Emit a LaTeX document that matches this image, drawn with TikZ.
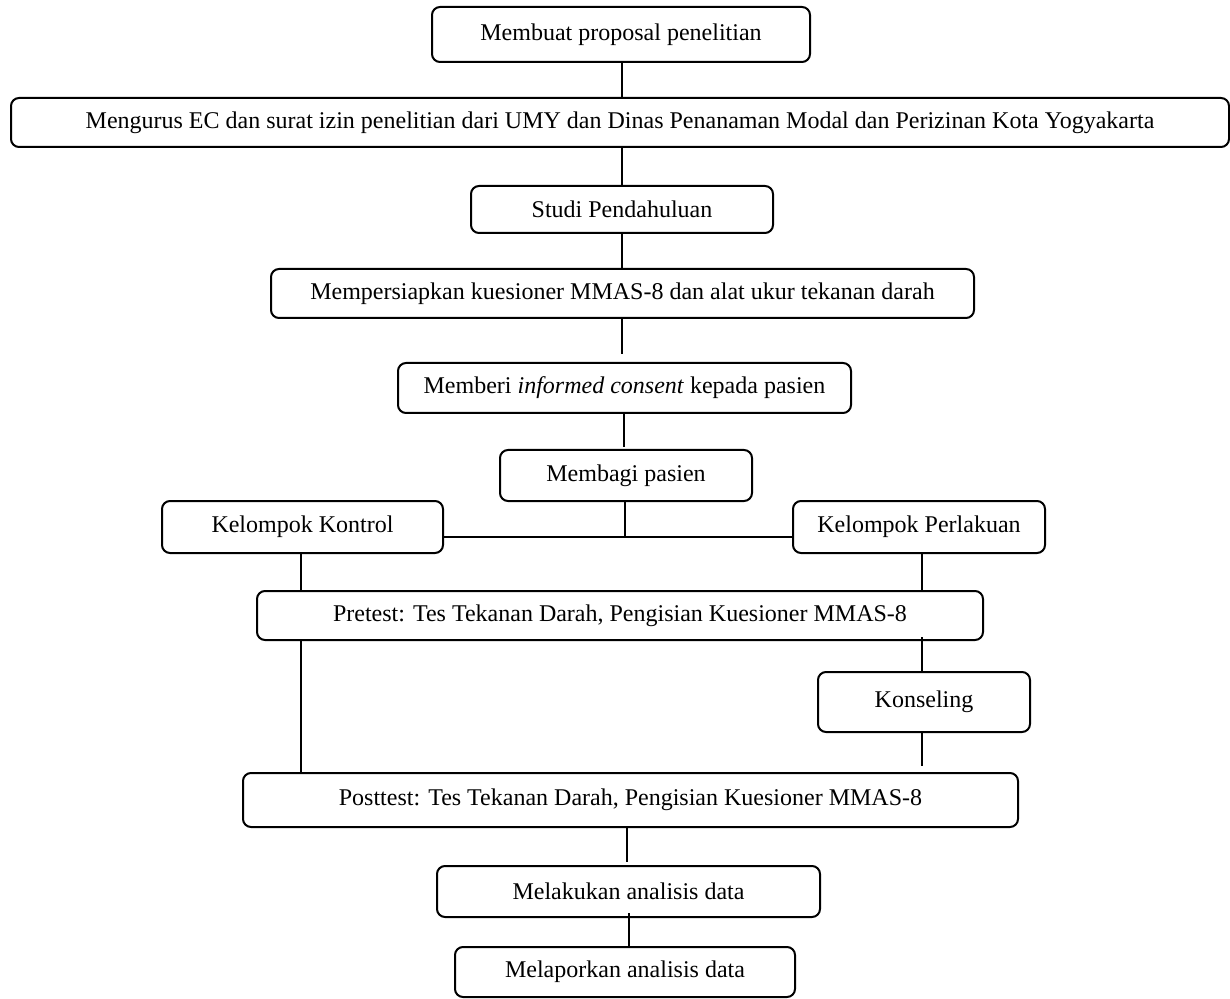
\documentclass[tikz,border=0pt]{standalone}
\usepackage{fontspec}
\setmainfont{Liberation Serif}
\begin{document}
\begin{tikzpicture}[x=0.5pt,y=-0.5pt,
  box/.style={draw, line width=1pt, rounded corners=4pt, inner sep=0pt, font=\fontsize{12pt}{14pt}\selectfont},
  conn/.style={line width=0.9pt}]
\useasboundingbox[fill=white] (0,0) rectangle (1230,999);
% boxes
\node[box, minimum width=189pt, minimum height=27.5pt] (b1) at (621,34.5) {Membuat proposal penelitian};
\node[box, minimum width=609pt, minimum height=24.5pt] (b2) at (620,122.5) {Mengurus EC dan surat izin penelitian dari UMY dan Dinas Penanaman Modal dan Perizinan Kota Yogyakarta};
\node[box, minimum width=151pt, minimum height=23.5pt] (b3) at (622,209.5) {Studi Pendahuluan};
\node[box, minimum width=351.5pt, minimum height=24.5pt] (b4) at (622.5,293.5) {Mempersiapkan kuesioner MMAS-8 dan alat ukur tekanan darah};
\node[box, minimum width=226.5pt, minimum height=25pt] (b5) at (624.5,388) {Memberi \textit{informed consent} kepada pasien};
\node[box, minimum width=126pt, minimum height=25.5pt] (b6) at (626,475.5) {Membagi pasien};
\node[box, minimum width=140.5pt, minimum height=26pt] (k1) at (302.5,527) {Kelompok Kontrol};
\node[box, minimum width=126pt, minimum height=26pt] (k2) at (919,527) {Kelompok Perlakuan};
\node[box, minimum width=363pt, minimum height=24.5pt] (pre) at (620,615.5) {Pretest: Tes Tekanan Darah, Pengisian Kuesioner MMAS-8};
\node[box, minimum width=106pt, minimum height=30pt] (kons) at (924,702) {Konseling};
\node[box, minimum width=387.5pt, minimum height=27pt] (post) at (630.5,800) {Posttest: Tes Tekanan Darah, Pengisian Kuesioner MMAS-8};
\node[box, minimum width=191.5pt, minimum height=25.5pt] (m1) at (628.5,891.5) {Melakukan analisis data};
\node[box, minimum width=170pt, minimum height=25pt] (m2) at (625,972) {Melaporkan analisis data};
% column coordinates
\coordinate (cA) at (622,0);
\coordinate (cB) at (624,0);
\coordinate (cC) at (625,0);
\coordinate (cL) at (301,0);
\coordinate (cR) at (922,0);
\coordinate (cD) at (627,0);
\coordinate (cE) at (629,0);
\coordinate (split) at (625,537);
% connectors
\draw[conn] (b1.south -| cA) -- (b2.north -| cA);
\draw[conn] (b2.south -| cA) -- (b3.north -| cA);
\draw[conn] (b3.south -| cA) -- (b4.north -| cA);
\draw[conn, shorten >=4pt] (b4.south -| cA) -- (b5.north -| cA);
\draw[conn, shorten >=1pt] (b5.south -| cB) -- (b6.north -| cB);
\draw[conn] (b6.south -| cC) -- (split);
\draw[conn] (k1.east |- split) -- (k2.west |- split);
\draw[conn] (k1.south -| cL) -- (pre.north -| cL);
\draw[conn] (k2.south -| cR) -- (pre.north -| cR);
\draw[conn, shorten <=-2pt] (pre.south -| cR) -- (kons.north -| cR);
\draw[conn, shorten >=3pt] (kons.south -| cR) -- (post.north -| cR);
\draw[conn] (pre.south -| cL) -- (post.north -| cL);
\draw[conn, shorten >=1.5pt] (post.south -| cD) -- (m1.north -| cD);
\draw[conn, shorten <=-2.5pt] (m1.south -| cE) -- (m2.north -| cE);
\end{tikzpicture}
\end{document}
